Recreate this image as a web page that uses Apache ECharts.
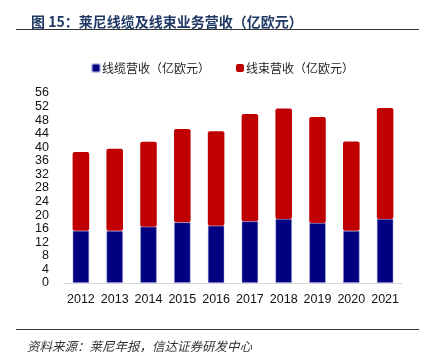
<!DOCTYPE html>
<html><head><meta charset="utf-8">
<script src="https://cdn.jsdelivr.net/npm/echarts@6/dist/echarts.min.js"></script>
<style>html,body{margin:0;padding:0;background:#fff}#c{width:430px;height:356px}</style>
</head><body><div id="c"></div>
<script>
const categories = ['2012','2013','2014','2015','2016','2017','2018','2019','2020','2021'];
const cableRevenue = [15.4, 15.4, 16.6, 17.9, 16.9, 18.2, 18.9, 17.7, 15.4, 18.9];
const harnessRevenue = [23.2, 24.2, 25.0, 27.5, 27.8, 31.6, 32.5, 31.2, 26.3, 32.7];
const seriesNames = ['线缆营收（亿欧元）', '线束营收（亿欧元）'];
const titleText = '图 15：莱尼线缆及线束业务营收（亿欧元）';
const sourceText = '资料来源：莱尼年报，信达证券研发中心';

const chart = echarts.init(document.getElementById('c'), null, {renderer:'canvas'});
const font = 'Liberation Sans, Arial, Noto Sans CJK SC, sans-serif';
chart.setOption({
  animation: false,
  textStyle: {fontFamily: font},
  title: {
    text: titleText, left: 26, top: 10,
    textStyle: {fontFamily: 'Noto Sans CJK SC, sans-serif', fontSize: 14, fontWeight: 'bold', color: '#1f3864'}
  },
  legend: {
    top: 57, left: 86, itemWidth: 8, itemHeight: 8, itemGap: 26,
    icon: 'roundRect',
    textStyle: {fontFamily: 'Noto Sans CJK SC, sans-serif', fontSize: 12, color: '#222', padding: [0,0,0,-3]},
    data: seriesNames
  },
  grid: {left: 64, right: 28, top: 93, bottom: 73, containLabel: false},
  xAxis: {
    type: 'category', data: categories,
    axisLine: {lineStyle: {color: '#d9d9d9', width: 1}},
    axisTick: {show: false},
    axisLabel: {color: '#111', fontSize: 12.5, margin: 10, interval: 0, fontFamily: font}
  },
  yAxis: {
    type: 'value', min: 0, max: 56, interval: 4,
    axisLine: {show: false}, axisTick: {show: false}, splitLine: {show: false},
    axisLabel: {color: '#111', fontSize: 12.5, margin: 15, fontFamily: font}
  },
  series: [
    {name: seriesNames[0], type: 'bar', stack: 'a', data: cableRevenue, barWidth: '49%',
     itemStyle: {color: '#000080', borderColor: 'rgba(150,150,210,0.6)', borderWidth: 0.8}},
    {name: seriesNames[1], type: 'bar', stack: 'a', data: harnessRevenue, barWidth: '49%',
     itemStyle: {color: '#c00000', borderRadius: 2}}
  ],
  graphic: [
    {type: 'line', shape: {x1: 16, y1: 29.5, x2: 419, y2: 29.5}, style: {stroke: '#333', lineWidth: 1}},
    {type: 'line', shape: {x1: 16, y1: 329.5, x2: 419, y2: 329.5}, style: {stroke: '#333', lineWidth: 1}},
    {type: 'text', left: 27, top: 340, style: {text: sourceText, fill: '#333',
      font: 'italic 12.5px "Noto Sans CJK SC", sans-serif'}}
  ]
});
</script></body></html>
